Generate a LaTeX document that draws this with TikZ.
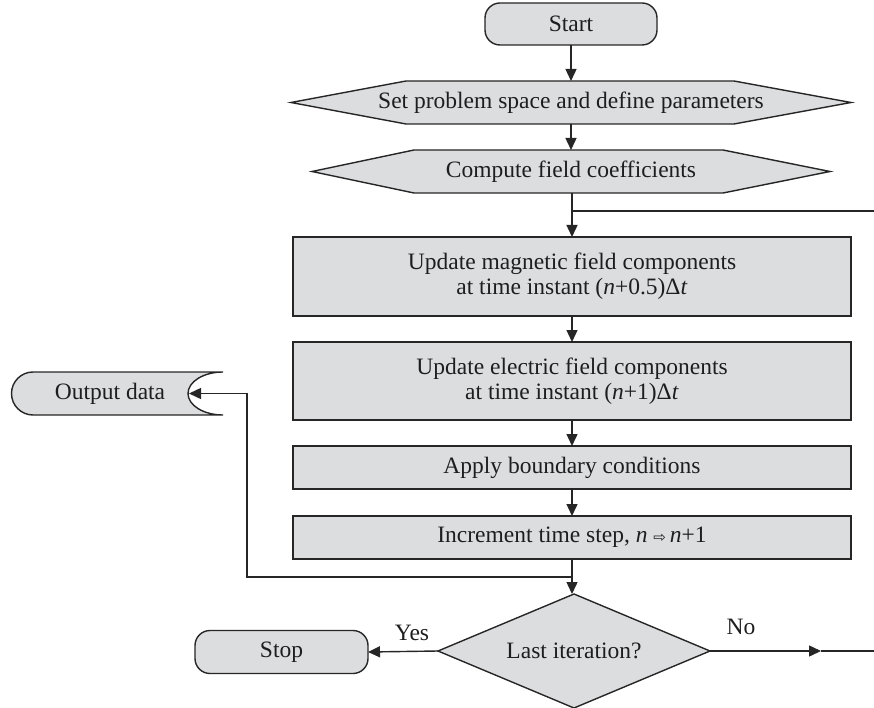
\documentclass[tikz,border=0pt]{standalone}
\usepackage{fontspec}
\setmainfont{Liberation Serif}
\newfontfamily\arrowfont{DejaVu Sans}
\usetikzlibrary{arrows.meta,shapes.geometric,backgrounds,calc}
\definecolor{boxfill}{HTML}{DCDDDF}
\definecolor{linec}{HTML}{262626}
\definecolor{textc}{HTML}{1E1E1E}
\begin{document}
\begin{tikzpicture}[x=1pt,y=-1pt,
  every node/.style={font=\fontsize{23.5}{25}\selectfont, text=textc, inner sep=0pt, outer sep=0pt},
  boxnode/.style={draw=linec, fill=boxfill, line width=1.4pt, rectangle, align=center},
  termnode/.style={boxnode, rounded corners=15pt},
  plainnode/.style={rectangle, align=center},
  decnode/.style={draw=linec, fill=boxfill, line width=1.4pt, diamond, aspect=2.386, align=center},
  conn/.style={draw=linec, line width=1.4pt},
  arr/.style={conn, -{Triangle[length=12pt,width=11pt]}},
  shapefill/.style={draw=linec, fill=boxfill, line width=1.4pt, line join=miter},
  lbl/.style={font=\fontsize{23.5}{25}\selectfont}
]
\useasboundingbox (0,0) rectangle (874,708);

% nodes
\node[termnode, minimum width=172pt, minimum height=42pt] (start) at (571,24) {Start};
\node[plainnode, minimum width=560pt, minimum height=43pt] (h1) at (571,102.5) {Set problem space and define parameters};
\node[plainnode, minimum width=518pt, minimum height=43pt] (h2) at (571,171.5) {Compute field coefficients};
\node[boxnode, minimum width=558pt, minimum height=79pt] (b1) at (572,276.5) {Update magnetic field components\\at time instant (\textit{n}+0.5)Δ\textit{t}};
\node[boxnode, minimum width=558pt, minimum height=78pt] (b2) at (572,381) {Update electric field components\\at time instant (\textit{n}+1)Δ\textit{t}};
\node[boxnode, minimum width=558pt, minimum height=43pt] (b3) at (572,467.5) {Apply boundary conditions};
\node[boxnode, minimum width=558pt, minimum height=43pt] (b4) at (572,537.5) {Increment time step, \textit{n} {\arrowfont\fontsize{15}{15}\selectfont ⇨}\,\textit{n}+1};
\node[decnode, minimum width=272pt, minimum height=114pt] (dec) at (574,651) {Last iteration?};
\node[termnode, minimum width=173pt, minimum height=43pt] (stop) at (281.5,652) {Stop};
\node[plainnode, minimum width=150pt, minimum height=43pt] (out) at (110,393.5) {Output data};
\node[lbl] (yes) at (412,633) {Yes};
\node[lbl] (no) at (741,627) {No};

% background shapes
\begin{pgfonlayer}{background}
\draw[shapefill] (h1.west) -- ([xshift=115pt]h1.north west) -- ([xshift=-117pt]h1.north east) -- (h1.east)
  -- ([xshift=-117pt]h1.south east) -- ([xshift=115pt]h1.south west) -- cycle;
\draw[shapefill] (h2.west) -- ([xshift=102pt]h2.north west) -- ([xshift=-107pt]h2.north east) -- (h2.east)
  -- ([xshift=-107pt]h2.south east) -- ([xshift=102pt]h2.south west) -- cycle;
\draw[shapefill] (33,372) -- (223,372)
  .. controls (203.7,372) and (188,381.6) .. (188,393.5)
  .. controls (188,405.4) and (203.7,415) .. (223,415)
  -- (33,415) arc[start angle=270, end angle=90, radius=21.5pt] -- cycle;
\end{pgfonlayer}

% coordinates
\coordinate (j1) at (572,211);
\coordinate (ret) at (874,211);
\coordinate (j2) at (572,577);
\coordinate (loopx) at (247,577);
\coordinate (outtip) at (189,393.5);
\coordinate (nomid) at (821,651);
\coordinate (noend) at (874,651);

% connectors
\draw[arr] (start.south) -- (h1.north -| start.south);
\draw[arr] (h1.south -| start.south) -- (h2.north -| start.south);
\draw[arr] (h2.south -| j1) -- (b1.north -| j1);
\draw[conn] (j1) -- (ret);
\draw[arr] (b1.south) -- (b2.north);
\draw[arr] (b2.south) -- (b3.north);
\draw[arr] (b3.south) -- (b4.north);
\draw[arr] (b4.south) -- (dec.north -| b4.south);
\draw[arr] (j2) -- (loopx) |- (outtip);
\draw[arr] (dec.west) -- (stop.east);
\draw[arr] (dec.east) -- (nomid);
\draw[conn] (nomid) -- (noend);
\end{tikzpicture}
\end{document}
